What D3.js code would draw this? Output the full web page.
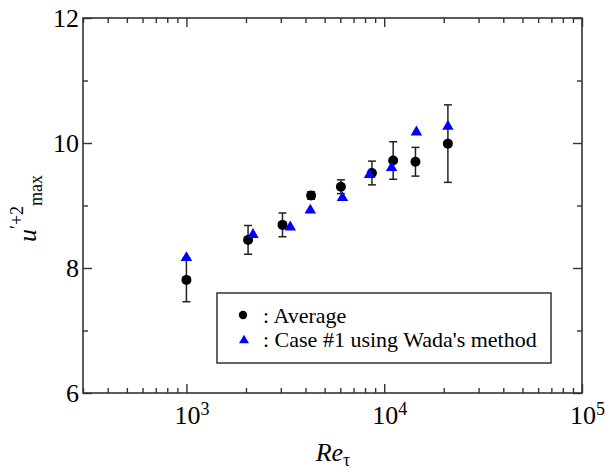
<!DOCTYPE html>
<html>
<head>
<meta charset="utf-8">
<script src="https://cdn.jsdelivr.net/npm/d3@7"></script>
<style>
  body { margin: 0; background: #fff; }
</style>
</head>
<body>
<div id="chart"></div>
<script>

// Average (black circles, with error bars)
var avgRe  = [1000, 2050, 3060, 4270, 6040, 8670, 11100, 14390, 20990];
var avgU   = [7.81, 8.45, 8.69, 9.16, 9.30, 9.52, 9.72, 9.70, 9.99];
var avgErr = [0.35, 0.23, 0.19, 0.06, 0.11, 0.19, 0.30, 0.23, 0.62];

// Case #1 using Wada's method (blue triangles)
var caseRe = [1000, 2170, 3350, 4230, 6150, 8430, 10900, 14550, 20990];
var caseU  = [8.19, 8.56, 8.68, 8.95, 9.15, 9.52, 9.63, 10.20, 10.29];

var xMajor = [1e3, 1e4, 1e5];
var xExp   = ["3", "4", "5"];
var yMajor = [6, 8, 10, 12];
var yMinor = [7, 9, 11];
var legendLabels = [": Average", ": Case #1 using Wada's method"];

var width = 605, height = 470;
var left = 83, top_ = 18, right = 582, bottom = 393;
var serif = "Liberation Serif, Tinos, Times New Roman, Times, DejaVu Serif, Noto Serif, serif";

var x = d3.scaleLog().domain([300, 1e5]).range([left, right]);
var y = d3.scaleLinear().domain([6, 12]).range([bottom, top_]);

// minor x ticks: 2..9 in every decade, inside the domain
var xMinor = [];
[100, 1000, 10000].forEach(function (d) {
  for (var k = 2; k <= 9; k++) {
    var v = d * k;
    if (v >= 300 && v < 1e5) xMinor.push(v);
  }
});

var svg = d3.select("#chart").append("svg")
    .attr("width", width)
    .attr("height", height)
    .style("font-family", serif);

var axisColor = "#333";

function styleAxis(g) {
  g.select(".domain").remove();
  g.selectAll("line").attr("stroke", axisColor).attr("stroke-width", 1.4);
}

// bottom / top ticks (pointing inward)
svg.append("g").attr("transform", "translate(0," + bottom + ")")
    .call(d3.axisBottom(x).tickValues(xMajor).tickSize(-9).tickFormat(""))
    .call(styleAxis);
svg.append("g").attr("transform", "translate(0," + bottom + ")")
    .call(d3.axisBottom(x).tickValues(xMinor).tickSize(-5).tickFormat(""))
    .call(styleAxis);
svg.append("g").attr("transform", "translate(0," + top_ + ")")
    .call(d3.axisTop(x).tickValues(xMajor).tickSize(-9).tickFormat(""))
    .call(styleAxis);
svg.append("g").attr("transform", "translate(0," + top_ + ")")
    .call(d3.axisTop(x).tickValues(xMinor).tickSize(-5).tickFormat(""))
    .call(styleAxis);

// left / right ticks
svg.append("g").attr("transform", "translate(" + left + ",0)")
    .call(d3.axisLeft(y).tickValues(yMajor).tickSize(-9).tickFormat(""))
    .call(styleAxis);
svg.append("g").attr("transform", "translate(" + left + ",0)")
    .call(d3.axisLeft(y).tickValues(yMinor).tickSize(-5).tickFormat(""))
    .call(styleAxis);
svg.append("g").attr("transform", "translate(" + right + ",0)")
    .call(d3.axisRight(y).tickValues(yMajor).tickSize(-9).tickFormat(""))
    .call(styleAxis);
svg.append("g").attr("transform", "translate(" + right + ",0)")
    .call(d3.axisRight(y).tickValues(yMinor).tickSize(-5).tickFormat(""))
    .call(styleAxis);

// frame
svg.append("rect")
    .attr("x", left).attr("y", top_)
    .attr("width", right - left).attr("height", bottom - top_)
    .attr("fill", "none")
    .attr("stroke", axisColor)
    .attr("stroke-width", 1.6);

// y tick labels
svg.selectAll(".ylab").data(yMajor).enter().append("text")
    .attr("class", "ylab")
    .attr("x", left - 4)
    .attr("y", function (d) { return y(d) + 9; })
    .attr("text-anchor", "end")
    .style("font-family", serif)
    .attr("font-size", 26)
    .text(function (d) { return d; });

// x tick labels 10^n
var xl = svg.selectAll(".xlab").data(xMajor).enter().append("text")
    .attr("class", "xlab")
    .attr("x", function (d) { return x(d) - 12; })
    .attr("y", bottom + 31)
    .style("font-family", serif)
    .attr("font-size", 26);
xl.append("tspan").text("10");
xl.append("tspan").attr("font-size", 18).attr("dy", -9)
    .text(function (d, i) { return xExp[i]; });

// x title
var xt = svg.append("text")
    .attr("x", 333).attr("y", 461)
    .attr("text-anchor", "middle")
    .style("font-family", serif)
    .attr("font-size", 26);
xt.append("tspan").attr("font-style", "italic").text("Re");
xt.append("tspan").attr("font-size", 18).attr("dy", 5).text("\u03c4");

// y title
var yt = svg.append("text")
    .attr("transform", "translate(36,242) rotate(-90)")
    .style("font-family", serif)
    .attr("font-size", 26);
yt.append("tspan").attr("font-style", "italic").text("u");
yt.append("tspan").attr("font-size", 18).attr("dy", -13).text("\u2032+2");
yt.append("tspan").attr("font-size", 18).attr("dy", 19).text("max");

// error bars
var capW = 4;
var eb = svg.append("g").attr("stroke", "#222").attr("stroke-width", 1.5);
avgRe.forEach(function (r, i) {
  var cx = x(r), y0 = y(avgU[i] - avgErr[i]), y1 = y(avgU[i] + avgErr[i]);
  eb.append("line").attr("x1", cx).attr("x2", cx).attr("y1", y0).attr("y2", y1);
  eb.append("line").attr("x1", cx - capW).attr("x2", cx + capW).attr("y1", y0).attr("y2", y0);
  eb.append("line").attr("x1", cx - capW).attr("x2", cx + capW).attr("y1", y1).attr("y2", y1);
});

function triPath(s) {
  var h = s * Math.sqrt(3) / 2;
  return "M0," + (-h / 2) + "L" + (s / 2) + "," + (h / 2) + "L" + (-s / 2) + "," + (h / 2) + "Z";
}

// average circles
svg.selectAll(".avg").data(avgRe).enter().append("circle")
    .attr("class", "avg")
    .attr("cx", function (d) { return x(d); })
    .attr("cy", function (d, i) { return y(avgU[i]); })
    .attr("r", 5)
    .attr("fill", "#000");

// case #1 triangles
svg.selectAll(".case").data(caseRe).enter().append("path")
    .attr("class", "case")
    .attr("d", triPath(11.5))
    .attr("transform", function (d, i) { return "translate(" + x(d) + "," + y(caseU[i]) + ")"; })
    .attr("fill", "#0000ff");

// legend
svg.append("rect")
    .attr("x", 217).attr("y", 293)
    .attr("width", 334).attr("height", 70)
    .attr("fill", "#fff")
    .attr("stroke", axisColor)
    .attr("stroke-width", 1.5);

svg.append("circle").attr("cx", 243).attr("cy", 315).attr("r", 4.2).attr("fill", "#000");
svg.append("path").attr("d", triPath(10))
    .attr("transform", "translate(244,339)")
    .attr("fill", "#0000ff");

svg.selectAll(".leg").data(legendLabels).enter().append("text")
    .attr("class", "leg")
    .attr("x", 263)
    .attr("y", function (d, i) { return 322.5 + i * 24.5; })
    .style("font-family", serif)
    .attr("font-size", 22)
    .text(function (d) { return d; });

</script>
</body>
</html>
